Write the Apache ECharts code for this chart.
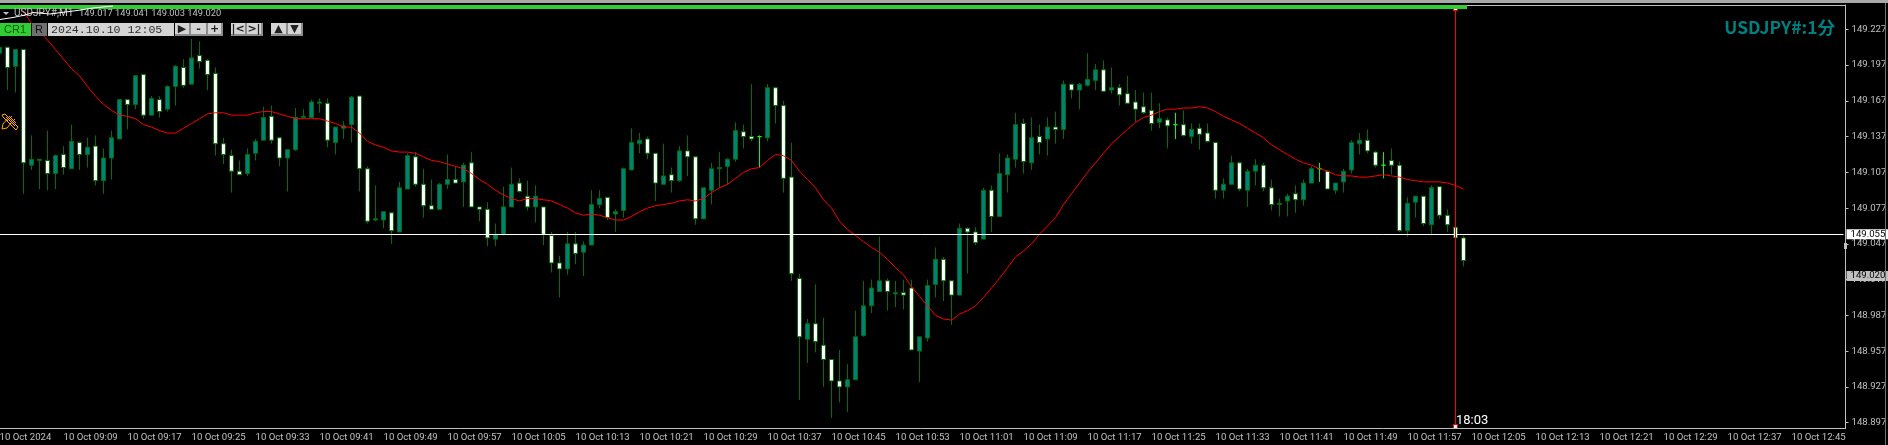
<!DOCTYPE html>
<html>
<head>
<meta charset="utf-8">
<title>USDJPY#, M1</title>
<style>
html, body { margin: 0; padding: 0; background: #000; overflow: hidden; }
#echart { width: 1888px; height: 445px; }
</style>
<script src="https://cdn.jsdelivr.net/npm/echarts@6/dist/echarts.min.js"></script>
</head>
<body>
<div id="echart"></div>
<script>
// --- data, one entry per minute from 09:01 to 12:04 ---
var opens = [
149.207,149.212,149.196,149.210,149.113,149.117,149.117,149.106,149.122,149.110,
149.132,149.122,149.129,149.100,149.119,149.135,149.168,149.164,149.189,149.155,
149.168,149.160,149.179,149.195,149.181,149.205,149.201,149.190,149.131,149.121,
149.108,149.106,149.123,149.134,149.154,149.136,149.119,149.126,149.153,149.153,
149.165,149.165,149.132,149.144,149.147,149.171,149.110,149.067,149.067,149.073,
149.057,149.093,149.120,149.097,149.079,149.076,149.097,149.101,149.099,149.115,
149.078,149.076,149.051,149.055,149.078,149.098,149.087,149.078,149.078,149.054,
149.031,149.026,149.047,149.040,149.046,149.080,149.086,149.072,149.075,149.109,
149.131,149.135,149.123,149.097,149.105,149.100,149.125,149.120,149.068,149.092,
149.110,149.112,149.118,149.141,149.137,149.137,149.136,149.178,149.163,149.103,
149.018,148.967,148.980,148.962,148.950,148.932,148.927,148.933,148.970,148.995,
149.007,149.016,149.005,149.006,149.010,148.957,148.968,149.013,149.034,149.016,
149.004,149.060,149.057,149.051,149.092,149.070,149.105,149.118,149.148,149.115,
149.137,149.135,149.145,149.143,149.181,149.176,149.180,149.184,149.193,149.176,
149.178,149.173,149.166,149.162,149.159,149.149,149.151,149.147,149.147,149.137,
149.144,149.140,149.132,149.092,149.097,149.115,149.092,149.108,149.113,149.094,
149.080,149.083,149.089,149.084,149.098,149.110,149.108,149.092,149.099,149.109,
149.131,149.134,149.124,149.113,149.117,149.113,149.058,149.082,149.087,149.063,
149.095,149.071,149.061,149.052];

var closes = [
149.212,149.195,149.210,149.115,149.118,149.118,149.106,149.121,149.111,149.133,
149.122,149.128,149.100,149.119,149.136,149.168,149.164,149.188,149.155,149.169,
149.158,149.179,149.196,149.180,149.203,149.200,149.189,149.131,149.122,149.108,
149.105,149.122,149.133,149.153,149.134,149.119,149.126,149.153,149.154,149.166,
149.166,149.134,149.145,149.146,149.170,149.110,149.066,149.068,149.074,149.058,
149.094,149.121,149.097,149.079,149.076,149.097,149.101,149.098,149.113,149.078,
149.076,149.052,149.055,149.078,149.097,149.091,149.078,149.087,149.055,149.031,
149.026,149.047,149.039,149.046,149.080,149.085,149.069,149.074,149.110,149.132,
149.134,149.123,149.098,149.104,149.100,149.125,149.120,149.068,149.094,149.110,
149.111,149.118,149.142,149.137,149.135,149.137,149.178,149.163,149.102,149.022,
148.969,148.980,148.965,148.950,148.932,148.927,148.933,148.969,148.995,149.010,
149.016,149.007,149.006,149.004,148.958,148.969,149.012,149.034,149.016,149.004,
149.060,149.057,149.048,149.092,149.070,149.106,149.119,149.147,149.116,149.136,
149.132,149.145,149.143,149.181,149.176,149.181,149.185,149.193,149.175,149.178,
149.172,149.165,149.160,149.157,149.148,149.152,149.146,149.147,149.138,149.143,
149.139,149.133,149.092,149.097,149.115,149.093,149.108,149.113,149.094,149.080,
149.081,149.087,149.084,149.098,149.110,149.110,149.093,149.098,149.108,149.132,
149.134,149.125,149.113,149.113,149.113,149.058,149.081,149.087,149.064,149.094,
149.071,149.063,149.052,149.033];

var lows = [
149.207,149.176,149.174,149.089,149.109,149.093,149.092,149.093,149.105,149.110,
149.109,149.111,149.096,149.089,149.101,149.135,149.143,149.160,149.152,149.155,
149.153,149.158,149.163,149.178,149.181,149.194,149.176,149.121,149.114,149.090,
149.105,149.104,149.117,149.134,149.131,149.112,149.091,149.125,149.152,149.153,
149.157,149.128,149.122,149.135,149.132,149.091,149.064,149.066,149.060,149.047,
149.057,149.093,149.095,149.069,149.076,149.076,149.093,149.098,149.078,149.078,
149.066,149.045,149.045,149.054,149.078,149.090,149.075,149.065,149.046,149.023,
149.002,149.021,149.030,149.020,149.046,149.077,149.067,149.057,149.069,149.109,
149.123,149.118,149.083,149.097,149.090,149.099,149.104,149.063,149.068,149.080,
149.094,149.097,149.116,149.127,149.133,149.111,149.133,149.148,149.090,149.016,
148.916,148.947,148.956,148.927,148.901,148.914,148.906,148.933,148.969,148.989,
149.007,148.991,148.994,148.992,148.958,148.931,148.965,149.002,148.999,148.979,
149.004,149.022,149.046,149.051,149.057,149.070,149.090,149.111,149.106,149.109,
149.122,149.121,149.131,149.135,149.169,149.160,149.179,149.176,149.175,149.173,
149.163,149.165,149.149,149.156,149.142,149.144,149.127,149.135,149.137,149.131,
149.126,149.132,149.085,149.085,149.097,149.091,149.078,149.096,149.091,149.075,
149.070,149.070,149.073,149.079,149.098,149.099,149.093,149.089,149.090,149.106,
149.122,149.123,149.111,149.102,149.105,149.057,149.053,149.069,149.062,149.054,
149.068,149.057,149.039,149.028];

var highs = [
149.212,149.212,149.210,149.210,149.138,149.118,149.142,149.122,149.129,149.147,
149.133,149.136,149.138,149.127,149.142,149.168,149.168,149.188,149.189,149.171,
149.171,149.180,149.197,149.202,149.219,149.217,149.202,149.195,149.136,149.126,
149.117,149.127,149.135,149.162,149.163,149.136,149.126,149.161,149.160,149.168,
149.169,149.169,149.145,149.150,149.171,149.171,149.112,149.096,149.074,149.073,
149.099,149.123,149.124,149.110,149.101,149.098,149.122,149.112,149.115,149.124,
149.078,149.082,149.064,149.095,149.111,149.102,149.100,149.096,149.078,149.057,
149.037,149.057,149.057,149.049,149.092,149.092,149.086,149.076,149.111,149.144,
149.140,149.137,149.123,149.131,149.111,149.129,149.138,149.120,149.094,149.115,
149.124,149.119,149.149,149.147,149.181,149.138,149.181,149.179,149.167,149.132,
149.022,148.984,149.013,148.985,148.950,148.958,148.946,148.991,149.016,149.017,
149.053,149.018,149.016,149.017,149.017,148.969,149.017,149.044,149.036,149.016,
149.064,149.061,149.061,149.094,149.096,149.123,149.122,149.157,149.152,149.153,
149.147,149.153,149.158,149.184,149.181,149.182,149.207,149.198,149.201,149.195,
149.181,149.188,149.176,149.174,149.174,149.165,149.153,149.157,149.159,149.148,
149.148,149.148,149.132,149.102,149.121,149.116,149.110,149.118,149.115,149.101,
149.085,149.089,149.096,149.101,149.112,149.115,149.109,149.098,149.110,149.134,
149.140,149.143,149.125,149.124,149.127,149.116,149.086,149.087,149.087,149.096,
149.095,149.076,149.061,149.054];

// the red moving average, first two minutes are above the window
var maLine = [
null,null,149.251,149.242,149.232,149.225,149.218,149.210,149.202,149.194,
149.188,149.179,149.171,149.164,149.159,149.155,149.154,149.152,149.147,149.145,
149.142,149.140,149.140,149.144,149.148,149.152,149.156,149.157,149.157,149.155,
149.155,149.155,149.157,149.158,149.158,149.156,149.154,149.152,149.152,149.152,
149.152,149.150,149.148,149.145,149.145,149.140,149.133,149.130,149.128,149.125,
149.124,149.124,149.123,149.120,149.117,149.116,149.114,149.112,149.110,149.106,
149.101,149.097,149.092,149.088,149.085,149.083,149.085,149.085,149.084,149.083,
149.080,149.077,149.073,149.071,149.072,149.071,149.069,149.067,149.067,149.070,
149.074,149.077,149.079,149.080,149.081,149.083,149.084,149.083,149.085,149.090,
149.094,149.097,149.102,149.107,149.110,149.111,149.117,149.122,149.121,149.117,
149.108,149.101,149.094,149.084,149.077,149.066,149.059,149.054,149.049,149.044,
149.040,149.034,149.027,149.021,149.011,149.003,148.995,148.987,148.984,148.983,
148.988,148.991,148.995,149.002,149.010,149.018,149.027,149.036,149.041,149.047,
149.055,149.062,149.069,149.080,149.089,149.098,149.107,149.115,149.123,149.131,
149.137,149.143,149.149,149.153,149.155,149.158,149.160,149.160,149.161,149.161,
149.162,149.161,149.158,149.154,149.151,149.148,149.144,149.140,149.136,149.130,
149.126,149.122,149.118,149.115,149.113,149.110,149.108,149.105,149.104,149.104,
149.103,149.103,149.104,149.105,149.104,149.103,149.101,149.100,149.099,149.099,
149.099,149.098,149.096,149.093];

var priceTicks = [148.897,148.927,148.957,148.987,149.017,149.047,149.077,149.107,149.137,149.167,149.197,149.227];
var lastPrice = 149.055;
var bidPrice = 149.020;
var cursorTime = '12:03';
var firstTickLabel = '10 Oct 2024';
var slotCount = 231;   // minutes the time axis holds, chart is shifted to the left

function pad2(n){
	return (n < 10 ? '0' : '') + n;
}

var categories = [];
for(var i = 0; i < slotCount; i++){
	var m = 9 * 60 + 1 + i;
	categories.push(pad2(Math.floor(m / 60)) + ':' + pad2(m % 60));
}

var candles = [];
for(var j = 0; j < opens.length; j++){
	candles.push([opens[j], closes[j], lows[j], highs[j]]);
}

// --- colours ----------------------------------------------------------------
var silver = '#c0c0c0';
var wickGreen = '#007000';
var bodyTeal = '#008080';
var uiFont = 'Roboto, sans-serif';

// --- terminal chrome drawn around the chart ---------------------------------
function box(x, y, w, h, fill, z){
	return {type: 'rect', z: z || 100, silent: true, shape: {x: x, y: y, width: w, height: h}, style: {fill: fill}};
}
function label(x, y, text, color, font, align){
	return {type: 'text', z: 102, silent: true, x: x, y: y, style: {text: text, fill: color, font: font, align: align || 'left', verticalAlign: 'middle'}};
}
function stroke(points, color, z){
	return {type: 'polyline', z: z || 101, silent: true, shape: {points: points}, style: {stroke: color, lineWidth: 1, fill: null}};
}

function button(x, w, text){
	return [
		box(x, 23, w, 13, '#d4d4d4'),
		box(x + w - 2, 23, 2, 13, '#8c8c8c'),
		box(x, 34, w, 2, '#8c8c8c'),
		label(x + w / 2 - 1, 29.5, text, '#202020', 'bold 11px "DejaVu Sans"', 'center')
	];
}

var chrome = [
	box(0, 0, 1888, 3, '#a8a8a8'),
	box(1885, 3, 1, 442, '#707070'),
	stroke([[0, 5.5], [1846, 5.5]], silver, 5),
	stroke([[1843, 428.5], [1846, 428.5]], silver, 5),
	box(0, 5, 1467, 4, '#32cd32'),
	// symbol line and its little scribble
	{type: 'polygon', z: 101, silent: true, shape: {points: [[3, 12], [9, 12], [6, 15]]}, style: {fill: silver}},
	label(14, 13.5, 'USDJPY#,M1', silver, '10px Roboto'),
	label(79, 13.5, '149.017 149.041 149.003 149.020', silver, '9.3px Roboto'),
	stroke([[0, 19.5], [13, 17.5], [25, 15], [33, 12.5], [50, 14], [77, 10.5], [93, 8], [113, 6]], '#ffffff', 103),
	// toolbar
	box(0, 23, 31, 13, '#32cd32'),
	label(15, 29.5, 'CR1', '#0a5a0a', '11px "Liberation Sans"', 'center'),
	box(32, 23, 15, 13, '#707070'),
	label(39, 29.5, 'R', '#101010', '11px "Liberation Sans"', 'center'),
	box(48, 23, 126, 13, '#d4d4d4'),
	label(51, 29.5, '2024.10.10 12:05', '#303030', '11.6px "Liberation Mono"'),
	// order arrow icon
	stroke([[2, 115], [5, 114], [18, 127], [16, 130], [3, 117], [2, 115]], '#ffa500'),
	stroke([[8, 118], [3, 124], [2, 129], [7, 128], [12, 122]], '#ffa500'),
	stroke([[6, 117], [15, 126]], '#ffa500'),
	stroke([[9, 116], [16, 123]], '#ffa500'),
	stroke([[12, 116], [7, 121], [10, 124], [15, 119]], '#ffa500'),
	// cursor ends and time readout
	box(1453, 9, 5, 2, '#ff0000'),
	box(1454, 9, 3, 1, '#ffffff'),
	box(1453, 424, 5, 4, '#ff0000'),
	box(1454, 425, 3, 3, '#ffffff'),
	label(1456, 420.5, '18:03', '#ffffff', '13px Roboto'),
	// symbol title
	label(1835, 27, 'USDJPY#:1分', bodyTeal, 'bold 17.5px "Noto Sans CJK JP"', 'right'),
	// small marker on the price scale
	box(1844, 243, 3, 6, silver)
];
chrome = chrome
	.concat(button(175, 16, '\u25B6'))
	.concat(button(191, 17, '-'))
	.concat(button(208, 15, '+'))
	.concat(button(231, 16, '|<'))
	.concat(button(247, 16, '>|'))
	.concat(button(271, 17, '\u25B2'))
	.concat(button(288, 15, '\u25BC'));

// --- eChart -----------------------------------------------------------------
var eChart = echarts.init(document.getElementById('echart'));

var eChartOption = {
	animation: false,
	backgroundColor: '#000000',
	grid: {
		left: -4.5,
		top: 5,
		width: 1848,
		height: 423,
		outerBoundsMode: 'none'
	},
	xAxis: {
		type: 'category',
		data: categories,
		axisLine: {lineStyle: {color: silver, width: 1}},
		axisTick: {alignWithLabel: true, interval: 7, length: 3, lineStyle: {color: silver}},
		axisLabel: {
			interval: 7,
			align: 'left',
			margin: 5,
			color: silver,
			fontFamily: uiFont,
			fontSize: 9.6,
			formatter: function(value, index){
				return index === 0 ? firstTickLabel : '10 Oct ' + value;
			}
		},
		splitLine: {show: false}
	},
	yAxis: {
		type: 'value',
		position: 'right',
		offset: 2,
		min: 148.8925,
		max: 149.2474,
		axisLine: {show: true, lineStyle: {color: silver, width: 1}},
		axisTick: {show: true, length: 3, lineStyle: {color: silver}, customValues: priceTicks},
		axisLabel: {
			color: silver,
			margin: 6,
			fontFamily: uiFont,
			fontSize: 9.6,
			customValues: priceTicks,
			formatter: function(value){
				return value.toFixed(3);
			}
		},
		splitLine: {show: false}
	},
	series: [
		{
			name: 'USDJPY#',
			type: 'candlestick',
			data: candles,
			barWidth: 5,
			itemStyle: {
				color: bodyTeal,
				color0: '#ffffff',
				borderColor: wickGreen,
				borderColor0: wickGreen,
				borderColorDoji: '#00ff00',
				borderWidth: 1
			}
		},
		{
			name: 'MA',
			type: 'line',
			data: maLine,
			symbol: 'none',
			smooth: false,
			z: 3,
			lineStyle: {color: '#ff0000', width: 1},
			markLine: {
				silent: true,
				symbol: 'none',
				animation: false,
				precision: 3,   // default of 2 moves the lines off their price
				data: [
					{
						yAxis: lastPrice,
						lineStyle: {color: '#ffffff', width: 1, type: 'solid'},
						label: {
							show: true,
							position: 'end',
							distance: 3,
							formatter: lastPrice.toFixed(3),
							color: '#000000',
							backgroundColor: '#ffffff',
							fontFamily: uiFont,
							fontSize: 9.6,
							lineHeight: 10,
							padding: [0, 3, 0, 4]
						}
					},
					{
						yAxis: bidPrice,
						lineStyle: {color: 'transparent', width: 1},
						label: {
							show: true,
							position: 'end',
							distance: 3,
							formatter: bidPrice.toFixed(3),
							color: '#000000',
							backgroundColor: silver,
							fontFamily: uiFont,
							fontSize: 9.6,
							lineHeight: 10,
							padding: [0, 3, 0, 4]
						}
					},
					{
						xAxis: cursorTime,
						lineStyle: {color: '#ff0000', width: 1, type: 'solid'},
						label: {show: false}
					}
				]
			}
		}
	],
	graphic: chrome
};

eChart.setOption(eChartOption);
</script>
</body>
</html>
